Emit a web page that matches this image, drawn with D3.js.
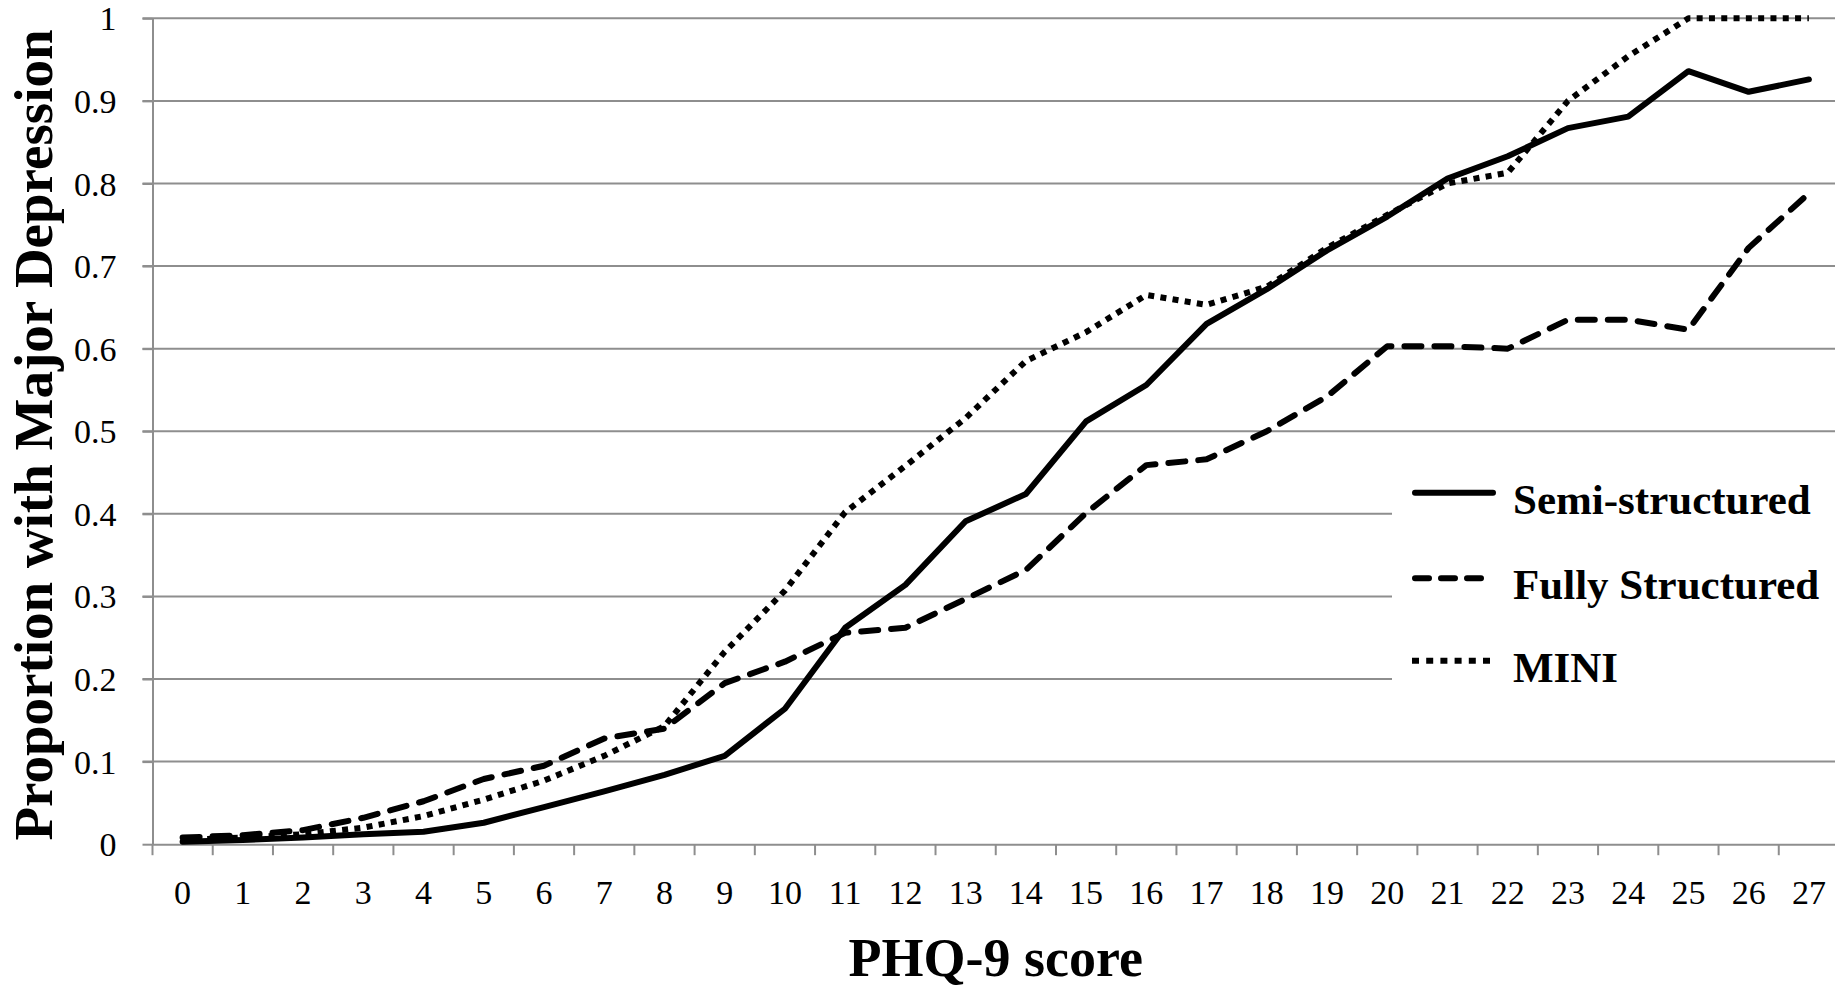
<!DOCTYPE html>
<html>
<head>
<meta charset="utf-8">
<script src="https://cdn.jsdelivr.net/npm/d3@7"></script>
<style>
  html, body { margin: 0; padding: 0; background: #fff; overflow: hidden; }
  svg { display: block; }
  text { font-family: "Liberation Serif", "Times New Roman", serif; fill: #000; }
</style>
</head>
<body>
<svg id="chart" width="1835" height="988"></svg>
<script>
const scores = d3.range(0, 28).map(String);
const yTicks = [0, 0.1, 0.2, 0.3, 0.4, 0.5, 0.6, 0.7, 0.8, 0.9, 1];
const yTickLabels = ["0", "0.1", "0.2", "0.3", "0.4", "0.5", "0.6", "0.7", "0.8", "0.9", "1"];
const seriesNames = ["Semi-structured", "Fully Structured", "MINI"];
const semiStructured = [0.003, 0.005, 0.008, 0.012, 0.015, 0.026, 0.045, 0.064, 0.084, 0.107,
  0.164, 0.262, 0.314, 0.391, 0.424, 0.512, 0.556, 0.630, 0.672, 0.719,
  0.760, 0.806, 0.833, 0.867, 0.881, 0.936, 0.911, 0.926];
const fullyStructured = [0.008, 0.011, 0.017, 0.032, 0.052, 0.079, 0.095, 0.128, 0.140, 0.195,
  0.221, 0.256, 0.262, 0.297, 0.332, 0.401, 0.459, 0.466, 0.500, 0.542,
  0.603, 0.603, 0.600, 0.635, 0.635, 0.623, 0.722, 0.788];
const mini = [0.005, 0.008, 0.012, 0.020, 0.034, 0.054, 0.077, 0.107, 0.143, 0.233,
  0.307, 0.402, 0.458, 0.516, 0.585, 0.620, 0.665, 0.653, 0.675, 0.722,
  0.762, 0.800, 0.813, 0.900, 0.954, 1.0, 1.0, 1.0];

const svg = d3.select("#chart");
const mLeft = 152.5, mRight = 1839, mTop = 18.3, mBottom = 844.2;
const x = d3.scaleBand().domain(scores).range([mLeft, mRight]).paddingInner(0).paddingOuter(0);
const y = d3.scaleLinear().domain([0, 1]).range([mBottom, mTop]);
const gridColor = "#8e8e8e";

// gridlines
svg.append("g").selectAll("line").data(yTicks.filter(d => d > 0)).join("line")
  .attr("x1", mLeft - 10).attr("x2", mRight)
  .attr("y1", d => y(d)).attr("y2", d => y(d))
  .attr("stroke", gridColor).attr("stroke-width", 2);

// y axis
const yAxis = d3.axisLeft(y).tickValues(yTicks).tickSize(10).tickSizeOuter(0)
  .tickFormat((d, i) => yTickLabels[i]);
const gy = svg.append("g").attr("transform", `translate(${mLeft},0)`).call(yAxis);
gy.select(".domain").attr("stroke", gridColor).attr("stroke-width", 2);
gy.selectAll(".tick line").attr("stroke", gridColor).attr("stroke-width", 2);
gy.selectAll(".tick text").attr("x", -36).attr("dy", "0.34em")
  .style("font-size", "34px").style("font-family", "'Liberation Serif', serif").attr("fill", "#000");

// x axis
const xAxis = d3.axisBottom(x).tickSize(0).tickSizeOuter(0);
const gx = svg.append("g").attr("transform", `translate(0,${mBottom})`).call(xAxis);
gx.select(".domain").attr("stroke", gridColor).attr("stroke-width", 2);
gx.selectAll(".tick text").attr("y", 60).attr("dy", 0)
  .style("font-size", "34px").style("font-family", "'Liberation Serif', serif").attr("fill", "#000");
// tick marks at category boundaries
const boundaries = d3.range(0, scores.length + 1).map(i => mLeft + i * x.bandwidth());
svg.append("g").selectAll("line").data(boundaries).join("line")
  .attr("x1", d => d).attr("x2", d => d)
  .attr("y1", mBottom).attr("y2", mBottom + 11)
  .attr("stroke", gridColor).attr("stroke-width", 2);

// lines
const line = d3.line().x((d, i) => x(scores[i]) + x.bandwidth() / 2).y(d => y(d));
const styles = [
  { data: semiStructured, dash: null, cap: "round" },
  { data: fullyStructured, dash: "17,13", cap: "round" },
  { data: mini, dash: "6,6.3", cap: "butt" }
];

// legend white box (covers gridlines)
svg.append("rect").attr("x", 1392).attr("y", 445).attr("width", 460).attr("height", 268).attr("fill", "#fff");

styles.forEach(s => {
  svg.append("path").datum(s.data)
    .attr("d", line)
    .attr("fill", "none").attr("stroke", "#000").attr("stroke-width", 6)
    .attr("stroke-linejoin", "round").attr("stroke-linecap", s.cap)
    .attr("stroke-dasharray", s.dash);
});

// legend
const legendY = [492.7, 578.3, 660.7];
const lg = svg.append("g");
seriesNames.forEach((name, i) => {
  const s = styles[i];
  lg.append("line")
    .attr("x1", i === 2 ? 1412 : 1415).attr("x2", 1493)
    .attr("y1", legendY[i]).attr("y2", legendY[i])
    .attr("stroke", "#000").attr("stroke-width", 6)
    .attr("stroke-linecap", s.cap)
    .attr("stroke-dasharray", i === 1 ? "14,12" : (i === 2 ? "7,7.2" : null));
  lg.append("text").attr("x", 1513).attr("y", legendY[i] + 21)
    .style("font-size", "43px").style("font-weight", "bold").text(name);
});

// axis titles
svg.append("text").attr("x", (mLeft + mRight) / 2).attr("y", 976)
  .attr("text-anchor", "middle").style("font-size", "54px").style("font-weight", "bold")
  .text("PHQ-9 score");
svg.append("text").attr("transform", `translate(52,${435}) rotate(-90)`)
  .attr("text-anchor", "middle").style("font-size", "55px").style("font-weight", "bold")
  .text("Proportion with Major Depression");
</script>
</body>
</html>
